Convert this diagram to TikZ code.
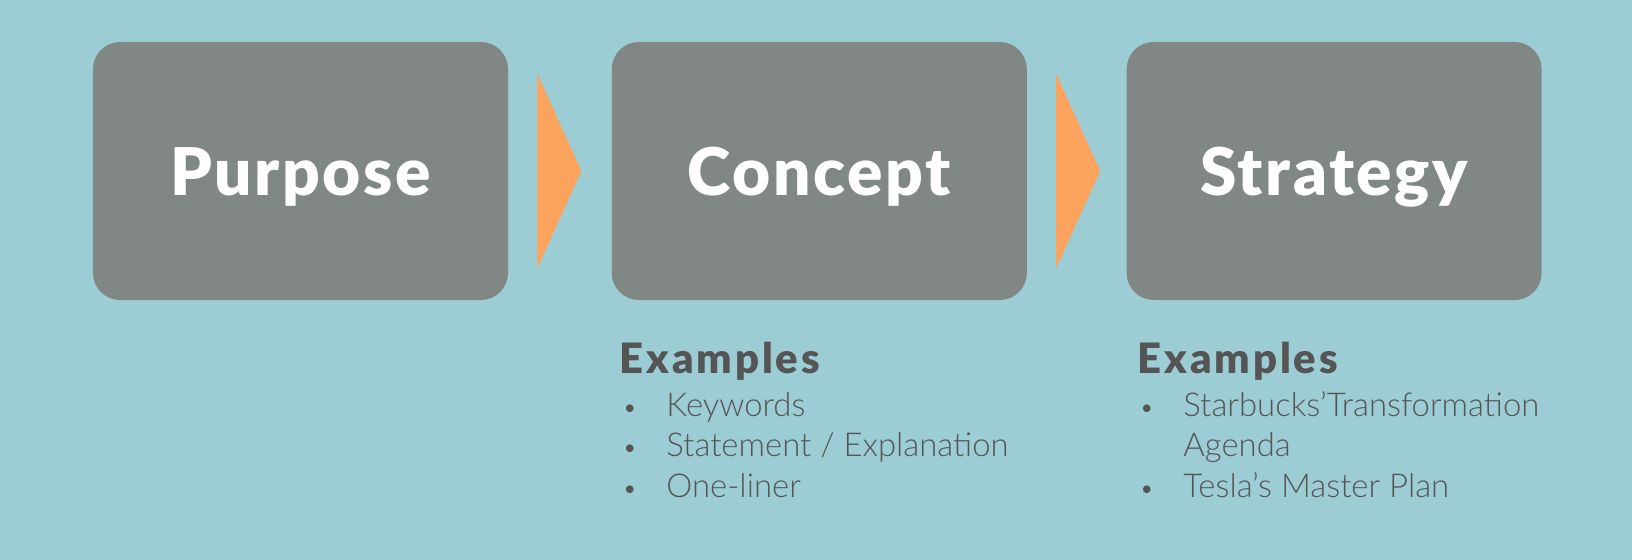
\documentclass[tikz,border=0pt]{standalone}
\usepackage{fontspec}
\setmainfont{Lato}
\newfontfamily\titlefont[LetterSpace=4]{Lato Black}
\newfontfamily\headfont[LetterSpace=7]{Lato Black}
\newfontfamily\itemfont{Lato Light}
\usepackage{tikz}
\usetikzlibrary{positioning}
\definecolor{bgblue}{RGB}{156,205,213}
\definecolor{stagegray}{RGB}{128,135,133}
\definecolor{arroworange}{RGB}{252,163,94}
\definecolor{textgray}{RGB}{85,85,85}

\tikzset{
  stage/.style={fill=stagegray,rounded corners=13.5bp,minimum width=207.5bp,text height=77bp,text depth=52bp,
    text=white,font=\titlefont\fontsize{33}{33}\selectfont,inner sep=0pt},
  exhead/.style={anchor=base west,inner sep=0pt,text=textgray,font=\headfont\fontsize{21}{22}\selectfont},
  exitem/.style={anchor=base west,inner sep=0pt,text=textgray,font=\itemfont\fontsize{16.5}{20}\selectfont},
  bullet/.style={anchor=base west,inner sep=0pt,text=textgray,font=\itemfont\fontsize{13}{20}\selectfont},
}

\begin{document}
\begin{tikzpicture}[x=0.5bp,y=-0.5bp]
% Background
\fill[bgblue] (0,0) rectangle (1632,560);
\useasboundingbox (0,0) rectangle (1632,560);

% Stages
\node[stage] (purpose) at (300.5,171) {Purpose};
\node[stage,right=51.5bp of purpose] (concept) {Concept};
\node[stage,right=49.5bp of concept] (strategy) {Strategy};

% Arrows
\fill[arroworange] ([xshift=14.5bp,yshift=48.5bp]purpose.east) -- ([xshift=36.5bp]purpose.east)
  -- ([xshift=14.5bp,yshift=-48.5bp]purpose.east) -- cycle;
\fill[arroworange] ([xshift=14.5bp,yshift=48.5bp]concept.east) -- ([xshift=36.5bp]concept.east)
  -- ([xshift=14.5bp,yshift=-48.5bp]concept.east) -- cycle;

% Examples under Concept
\node[exhead] (conhead) at (619,374) {Examples};
\node[bullet] (conb1) at (622,417) {•};
\node[exitem] (coni1) at (666,417) {Keywords};
\node[bullet] (conb2) at (622,457) {•};
\node[exitem] (coni2) at (666,457) {Statement / Explanation};
\node[bullet] (conb3) at (622,497) {•};
\node[exitem] (coni3) at (666,497) {One-liner};

% Examples under Strategy
\node[exhead] (strhead) at (1137,374) {Examples};
\node[bullet] (strb1) at (1139,417) {•};
\node[exitem] (stri1) at (1183,417) {Starbucks’Transformation};
\node[exitem] (stri1b) at (1183,457) {Agenda};
\node[bullet] (strb2) at (1139,497) {•};
\node[exitem] (stri2) at (1183,497) {Tesla’s Master Plan};
\end{tikzpicture}
\end{document}
